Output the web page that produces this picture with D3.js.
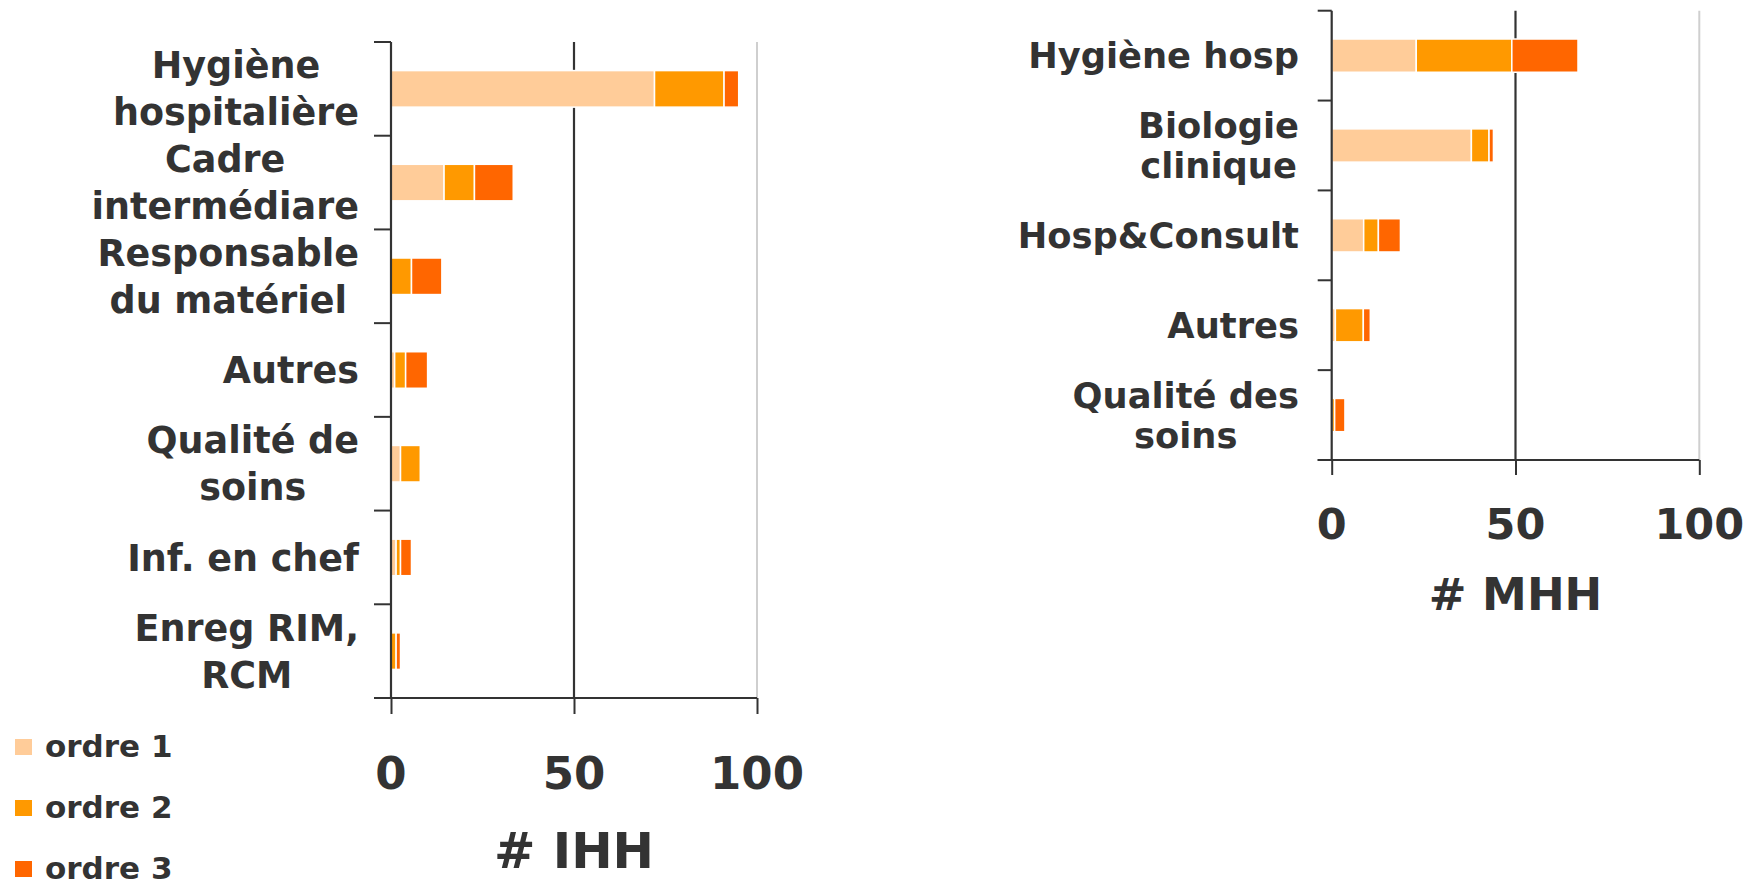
<!DOCTYPE html>
<html>
<head>
<meta charset="utf-8">
<script src="https://cdn.jsdelivr.net/npm/d3@7/dist/d3.min.js"></script>
<style>
  html, body { margin: 0; padding: 0; background: #fff; }
  svg { display: block; }
  text { font-family: "DejaVu Sans", Verdana, sans-serif; font-weight: bold; fill: #333; }
</style>
</head>
<body>
<svg id="chart" width="1758" height="886"></svg>
<script>
// ---------- DATA ----------
const seriesNames = ["ordre 1", "ordre 2", "ordre 3"];
const seriesColors = ["#FFCC99", "#FF9900", "#FF6600"];
const xTicks = [0, 50, 100];

const leftCategories = ["Hygiène\nhospitalière", "Cadre\nintermédiare", "Responsable\ndu matériel", "Autres", "Qualité de\nsoins", "Inf. en chef", "Enreg RIM,\nRCM"];
const leftOrdre1 = [72, 14.5, 0, 1, 2.6, 1.4, 0];
const leftOrdre2 = [19, 8.3, 5.6, 3, 5.4, 1.2, 1.4];
const leftOrdre3 = [4, 10.6, 8.3, 6, 0, 3, 1.2];
const leftTitle = "# IHH";

const rightCategories = ["Hygiène hosp", "Biologie\nclinique", "Hosp&Consult", "Autres", "Qualité des\nsoins"];
const rightOrdre1 = [23, 38, 8.7, 1, 0];
const rightOrdre2 = [26, 4.8, 4, 7.6, 0.8];
const rightOrdre3 = [18, 1.2, 6, 1.9, 2.8];
const rightTitle = "# MHH";

// ---------- DRAW ----------
const svg = d3.select("#chart");

function drawPanel(cfg) {
  const g = svg.append("g");
  const rows = cfg.categories.map((c, i) => ({
    cat: c, "ordre 1": cfg.s1[i], "ordre 2": cfg.s2[i], "ordre 3": cfg.s3[i]
  }));
  const x = d3.scaleLinear().domain([0, 100]).range([cfg.x0, cfg.x1]);
  const y = d3.scaleBand().domain(cfg.categories).range([cfg.y0, cfg.y1])
              .paddingInner(cfg.pad).paddingOuter(cfg.pad / 2);
  const step = y.step();
  const stack = d3.stack().keys(seriesNames)(rows);

  // light grid line at 100
  g.append("line")
    .attr("x1", x(100)).attr("x2", x(100))
    .attr("y1", cfg.y0).attr("y2", cfg.y1)
    .attr("stroke", "#cfcfcf").attr("stroke-width", 2);
  // dark grid line at 50
  g.append("line")
    .attr("x1", x(50)).attr("x2", x(50))
    .attr("y1", cfg.y0).attr("y2", cfg.y1)
    .attr("stroke", "#333").attr("stroke-width", 2.2);

  // bars
  g.selectAll("g.series").data(stack).join("g")
    .attr("fill", (d, i) => seriesColors[i])
    .selectAll("rect").data(d => d.filter(p => p[1] - p[0] > 0)).join("rect")
    .attr("x", d => x(d[0]))
    .attr("y", d => y(d.data.cat))
    .attr("width", d => x(d[1]) - x(d[0]))
    .attr("height", y.bandwidth())
    .attr("stroke", "#fff").attr("stroke-width", 1.5);

  // y axis line
  g.append("line")
    .attr("x1", x(0)).attr("x2", x(0))
    .attr("y1", cfg.y0).attr("y2", cfg.y1)
    .attr("stroke", "#333").attr("stroke-width", 2.2);
  // category boundary ticks
  d3.range(cfg.categories.length + 1).forEach(k => {
    const yy = cfg.y0 + k * step;
    g.append("line")
      .attr("x1", x(0) - cfg.tickLen).attr("x2", x(0))
      .attr("y1", yy).attr("y2", yy)
      .attr("stroke", "#333").attr("stroke-width", 2);
  });
  // x axis
  const xAxis = d3.axisBottom(x).tickValues(xTicks).tickSize(cfg.xTickLen).tickFormat(d3.format("d"));
  const ax = g.append("g").attr("transform", `translate(0,${cfg.y1})`).call(xAxis);
  ax.select(".domain").remove();
  ax.selectAll(".tick line").attr("stroke", "#333").attr("stroke-width", 2);
  ax.selectAll(".tick text").remove();
  g.append("line")
    .attr("x1", x(0) - cfg.tickLen).attr("x2", x(100))
    .attr("y1", cfg.y1).attr("y2", cfg.y1)
    .attr("stroke", "#333").attr("stroke-width", 2.2);
  g.selectAll("text.xtick").data(xTicks).join("text")
    .attr("class", "xtick")
    .attr("x", d => x(d)).attr("y", cfg.tickBase)
    .attr("text-anchor", "middle")
    .style("font-size", cfg.tickFont + "px")
    .text(d => d);

  // axis title
  g.append("text")
    .attr("x", x(50)).attr("y", cfg.titleBase)
    .attr("text-anchor", "middle")
    .style("font-size", cfg.titleFont + "px")
    .text(cfg.title);

  // category labels: block right-aligned, lines centered in block
  cfg.categories.forEach(c => {
    const lines = c.split("\n");
    const cy = y(c) + y.bandwidth() / 2;
    const t = g.append("text").style("font-size", cfg.labelFont + "px");
    const spans = lines.map((ln, i) => t.append("tspan").text(ln));
    const widths = spans.map(s => s.node().getComputedTextLength());
    const maxW = d3.max(widths);
    const cx = cfg.labelRight - maxW / 2;
    spans.forEach((s, i) => {
      const base = cy + (i - (lines.length - 1) / 2) * cfg.linePitch + cfg.labelFont * 0.36;
      s.attr("x", cx).attr("y", base).attr("text-anchor", "middle");
    });
  });
}

drawPanel({
  categories: leftCategories, s1: leftOrdre1, s2: leftOrdre2, s3: leftOrdre3,
  x0: 391, x1: 757, y0: 42, y1: 698, pad: 0.61, tickLen: 17, xTickLen: 16,
  tickBase: 789, tickFont: 45, titleBase: 868, titleFont: 49.5, title: leftTitle,
  labelRight: 359, labelFont: 36.5, linePitch: 47
});

drawPanel({
  categories: rightCategories, s1: rightOrdre1, s2: rightOrdre2, s3: rightOrdre3,
  x0: 1331.7, x1: 1699.3, y0: 10.7, y1: 460, pad: 0.63, tickLen: 14, xTickLen: 15,
  tickBase: 539, tickFont: 43, titleBase: 610, titleFont: 45, title: rightTitle,
  labelRight: 1299, labelFont: 35.3, linePitch: 40
});

// legend
const legend = svg.append("g");
seriesNames.forEach((name, i) => {
  const top = 739 + i * 61;
  legend.append("rect")
    .attr("x", 15).attr("y", top).attr("width", 17).attr("height", 16)
    .attr("fill", seriesColors[i]);
  legend.append("text")
    .attr("x", 45).attr("y", top + 18)
    .style("font-size", "31px")
    .text(name);
});
</script>
</body>
</html>
